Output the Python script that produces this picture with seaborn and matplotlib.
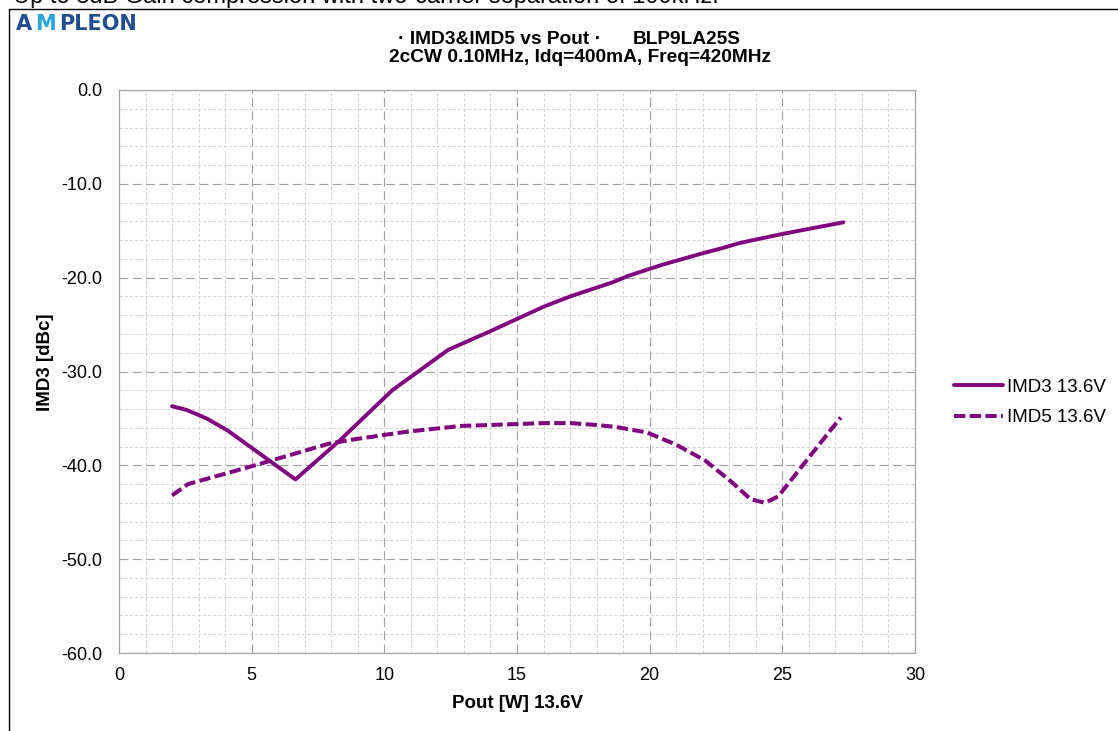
import matplotlib
matplotlib.use("Agg")
import matplotlib.pyplot as plt
import seaborn as sns
import pandas as pd
from matplotlib.lines import Line2D
from matplotlib.ticker import MultipleLocator, FormatStrFormatter

# ---------------- data ----------------
imd3_pout = [2.0, 2.55, 3.3, 4.1, 6.65, 8.3, 10.3, 12.4, 14.0, 15.0, 16.0, 17.0,
             18.6, 19.2, 20.5, 22.0, 22.8, 23.4, 24.9, 26.0, 27.3]
imd3_dbc = [-33.7, -34.1, -35.0, -36.3, -41.5, -37.4, -32.0, -27.7, -25.7, -24.4, -23.1, -22.0,
            -20.5, -19.8, -18.6, -17.4, -16.8, -16.3, -15.4, -14.8, -14.1]

imd5_pout = [2.0, 2.6, 5.0, 7.9, 8.7, 9.9, 10.9, 11.9, 12.9, 14.0, 15.0, 16.0, 17.0,
             18.0, 18.7, 19.9, 21.0, 22.1, 23.1, 23.8, 24.35, 24.85, 25.85, 27.2]
imd5_dbc = [-43.2, -42.0, -40.1, -37.7, -37.3, -36.8, -36.4, -36.1, -35.8, -35.7, -35.6, -35.5, -35.5,
            -35.7, -35.9, -36.5, -37.8, -39.5, -41.8, -43.6, -44.0, -43.3, -39.7, -34.9]

series_labels = ["IMD3 13.6V", "IMD5 13.6V"]
x_ticks = [0, 5, 10, 15, 20, 25, 30]
y_ticks = [0, -10, -20, -30, -40, -50, -60]

header_text = "Up to 3dB Gain compression with two-carrier separation of 100kHz."
title_line1a = "\u00b7 IMD3&IMD5 vs Pout \u00b7"
title_line1b = "BLP9LA25S"
title_line2 = "2cCW 0.10MHz, Idq=400mA, Freq=420MHz"
x_label = "Pout [W] 13.6V"
y_label = "IMD3 [dBc]"

# ---------------- styling ----------------
sns.set_theme(style="white")
plt.rcParams["font.family"] = ["Liberation Sans", "DejaVu Sans"]
plt.rcParams["axes.unicode_minus"] = False

W, H = 1118, 731
fig = plt.figure(figsize=(W / 100, H / 100), dpi=100)
fig.patch.set_facecolor("white")


def fx(px):
    return px / W


def fy(py):
    return 1 - py / H


ax = fig.add_axes([fx(119), fy(653), fx(915) - fx(119), fy(90) - fy(653)])
ax.set_facecolor("white")

purple = "#800080"
df3 = pd.DataFrame({"pout": imd3_pout, "dbc": imd3_dbc})
df5 = pd.DataFrame({"pout": imd5_pout, "dbc": imd5_dbc})
sns.lineplot(data=df3, x="pout", y="dbc", ax=ax, color=purple, linewidth=2.8,
             estimator=None, sort=False, label=series_labels[0], zorder=5)
sns.lineplot(data=df5, x="pout", y="dbc", ax=ax, color=purple, linewidth=2.9,
             estimator=None, sort=False, label=series_labels[1], zorder=5,
             linestyle=(0, (2.8, 1.1)))

ax.set_xlim(0, 30)
ax.set_ylim(-60, 0)
ax.xaxis.set_major_locator(MultipleLocator(5))
ax.xaxis.set_minor_locator(MultipleLocator(1))
ax.yaxis.set_major_locator(MultipleLocator(10))
ax.yaxis.set_minor_locator(MultipleLocator(2))
ax.set_xticks(x_ticks)
ax.set_yticks(y_ticks)
ax.yaxis.set_major_formatter(FormatStrFormatter("%.1f"))

ax.set_axisbelow(True)
ax.grid(which="minor", color="#d4d4d4", linewidth=0.75, linestyle=(0, (3, 2)))
ax.grid(which="major", color="#a0a0a0", linewidth=0.8, linestyle=(0, (8, 4)))

for s in ax.spines.values():
    s.set_color("#a6a6a6")
    s.set_linewidth(0.9)

ax.tick_params(which="major", direction="out", length=4, width=0.8, color="#a6a6a6",
               labelsize=13, labelcolor="black")
ax.tick_params(axis="x", which="major", pad=6)
ax.tick_params(axis="y", which="major", pad=8)
ax.tick_params(which="minor", length=0)

ax.set_xlabel(x_label, fontsize=13.5, fontweight="bold", color="black")
ax.set_ylabel(y_label, fontsize=13.5, fontweight="bold", color="black")
ax.xaxis.set_label_coords((517 - 119) / 796, (653 - 703) / 563)
ax.xaxis.label.set_va("center")
ax.yaxis.set_label_coords((45 - 119) / 796, (653 - 362) / 563)
ax.yaxis.label.set_va("center")

leg = ax.legend(loc="center left", bbox_to_anchor=(fx(954), fy(402.5)),
                bbox_transform=fig.transFigure, frameon=False, fontsize=13.5,
                handlelength=2.6, handletextpad=0.25, labelspacing=0.72,
                borderpad=0, borderaxespad=0)
for t in leg.get_texts():
    t.set_color("black")

# ---------------- titles and header ----------------
fig.text(fx(398), fy(39.5), title_line1a, fontsize=13.8, fontweight="bold",
         ha="left", va="center", color="black")
fig.text(fx(633), fy(39.5), title_line1b, fontsize=13.8, fontweight="bold",
         ha="left", va="center", color="black")
fig.text(fx(580), fy(57.5), title_line2, fontsize=13.8, fontweight="bold",
         ha="center", va="center", color="black")

fig.text(fx(13), fy(3.5), header_text, fontsize=17, ha="left", va="baseline",
         color="black")

# logo text
dark_blue = "#1f4d8f"
light_blue = "#2aa6df"
fig.text(fx(16), fy(30), "A", fontsize=15, fontweight="bold", family="DejaVu Sans",
         color=dark_blue, ha="left", va="baseline")
fig.text(fx(35), fy(30), "M", fontsize=15, fontweight="bold", family="DejaVu Sans",
         color=light_blue, ha="left", va="baseline")
fig.text(fx(59), fy(30), "PLEON", fontsize=15, fontweight="bold", family="DejaVu Sans",
         color=dark_blue, ha="left", va="baseline")

# chart frame
fig.add_artist(Line2D([fx(9), 1.0], [fy(9), fy(9)], color="black", linewidth=1.0,
                      transform=fig.transFigure))
fig.add_artist(Line2D([fx(9), fx(9)], [fy(9), 0.0], color="black", linewidth=1.0,
                      transform=fig.transFigure))

fig.savefig("out.png", dpi=100)
